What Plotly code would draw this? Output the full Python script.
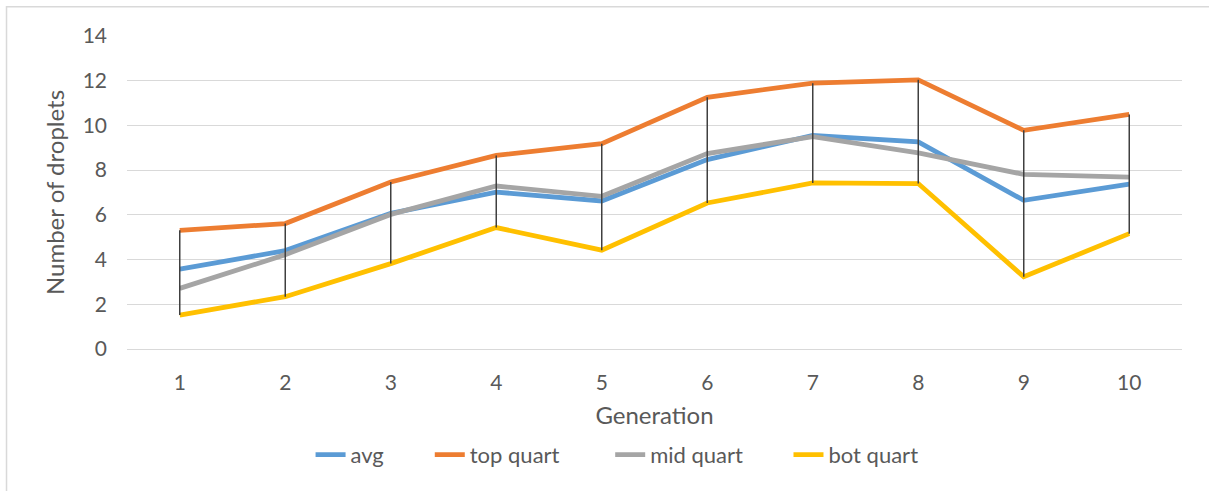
import plotly.graph_objects as go

# Droplet counts per generation
generations = ["1", "2", "3", "4", "5", "6", "7", "8", "9", "10"]
avg = [3.57, 4.40, 6.07, 7.02, 6.62, 8.47, 9.55, 9.26, 6.65, 7.37]
top_quart = [5.31, 5.61, 7.47, 8.66, 9.18, 11.26, 11.89, 12.04, 9.78, 10.49]
mid_quart = [2.71, 4.22, 6.02, 7.29, 6.83, 8.74, 9.50, 8.77, 7.81, 7.69]
bot_quart = [1.52, 2.34, 3.82, 5.43, 4.42, 6.53, 7.43, 7.40, 3.23, 5.16]

y_ticks = [0, 2, 4, 6, 8, 10, 12, 14]

TEXT = "#595959"
GRID = "#D9D9D9"
FONT = "Lato"

# name, values, colour, legend box, legend left edge (paper x)
series = [
    ("avg", avg, "#5B9BD5", "legend", 0.174),
    ("top quart", top_quart, "#ED7D31", "legend2", 0.287),
    ("mid quart", mid_quart, "#A5A5A5", "legend3", 0.458),
    ("bot quart", bot_quart, "#FFC000", "legend4", 0.627),
]

fig = go.Figure()
legend_layout = {}
for name, values, color, leg, lx in series:
    fig.add_trace(go.Scatter(
        x=generations, y=values, name=name, legend=leg, mode="lines",
        line=dict(color=color, width=4.8),
    ))
    legend_layout[leg] = dict(
        orientation="h", x=lx, xanchor="left", y=-0.338, yanchor="middle",
        font=dict(size=22, color=TEXT), bgcolor="rgba(0,0,0,0)",
    )

# High-low lines joining the bottom and top quartiles at each generation
hl_x, hl_y = [], []
for g, lo, hi in zip(generations, bot_quart, top_quart):
    hl_x += [g, g, None]
    hl_y += [lo, hi, None]
fig.add_trace(go.Scatter(
    x=hl_x, y=hl_y, mode="lines", showlegend=False, hoverinfo="skip",
    line=dict(color="#404040", width=1.5),
))

fig.update_layout(
    width=1209, height=491,
    margin=dict(l=127, r=27, t=36, b=142),
    paper_bgcolor="white", plot_bgcolor="white",
    font=dict(family=FONT, color=TEXT, size=21),
    shapes=[dict(
        type="rect", xref="paper", yref="paper",
        x0=-0.1142, x1=1.1, y0=-0.7, y1=1.0932,
        line=dict(color=GRID, width=1.5), layer="below",
    )],
    **legend_layout,
)

fig.update_xaxes(
    type="category", categoryorder="array", categoryarray=generations,
    range=[-0.5, 9.5], showgrid=False, showline=False, zeroline=False,
    ticks="", ticklabelstandoff=19, tickfont=dict(size=21, color=TEXT),
    title=dict(text="Generation", font=dict(size=24, color=TEXT), standoff=14),
)
fig.update_yaxes(
    range=[0, 14], tickvals=y_ticks, showgrid=True, gridcolor=GRID, gridwidth=1,
    zeroline=True, zerolinecolor=GRID, zerolinewidth=1, showline=False,
    ticks="", ticklabelstandoff=19, tickfont=dict(size=21, color=TEXT),
    title=dict(text="Number of droplets", font=dict(size=24, color=TEXT), standoff=11),
)

fig.write_html("out.html")
